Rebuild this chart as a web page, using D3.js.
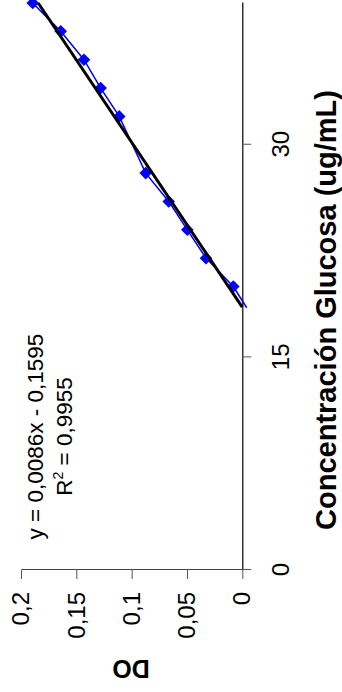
<!DOCTYPE html>
<html>
<head>
<meta charset="utf-8">
<script src="https://cdn.jsdelivr.net/npm/d3@7"></script>
<style>
  html, body { margin: 0; padding: 0; background: #fff; }
  svg { display: block; }
  text { font-family: "Liberation Sans", Arial, sans-serif; }
</style>
</head>
<body>
<script>
// Data
const concentracion = [18.5, 20, 22, 24, 26, 28, 32, 34, 36, 38, 40];
const densidadOptica = [-0.004, 0.0081, 0.0328, 0.0497, 0.0665, 0.0873, 0.1112, 0.128, 0.1431, 0.1641, 0.1894];
const xTicks = [0, 15, 30];
const yTicks = [0, 0.05, 0.1, 0.15, 0.2];
const slope = 0.0086;
const intercept = -0.1595;
const trendX = [18.55, 40];
const equationLine = "y = 0,0086x - 0,1595";
const r2Label = "R";
const r2Value = " = 0,9955";
const xTitle = "Concentración Glucosa (ug/mL)";
const yTitle = "DO";

const W = 342, H = 692;
const svg = d3.select("body").append("svg").attr("width", W).attr("height", H);

// Chart is drawn in an unrotated frame (692 x 342) and rotated -90 degrees
const g = svg.append("g").attr("transform", `translate(0,${H}) rotate(-90)`);

const x = d3.scaleLinear().domain([0, 40]).range([122, 689]);
const y = d3.scaleLinear().domain([0, 0.2]).range([242.3, 21]);
const fmt = d => d3.format("")(d).replace(".", ",");

// Y axis (DO)
const yAxis = g.append("g").attr("transform", `translate(${x(0)},0)`)
  .call(d3.axisLeft(y).tickValues(yTicks).tickSize(9).tickSizeOuter(0).tickPadding(13).tickFormat(fmt));
yAxis.select(".domain").attr("stroke", "#444").attr("stroke-width", 1);
yAxis.selectAll(".tick line").attr("stroke", "#555");
yAxis.selectAll("text").attr("font-size", 24).attr("fill", "#000")
  .attr("font-family", "'Liberation Sans', Arial, sans-serif");

// X axis (Concentración)
const xAxis = g.append("g").attr("transform", `translate(0,${y(0)})`)
  .call(d3.axisBottom(x).tickValues(xTicks).tickSize(9).tickSizeOuter(0).tickPadding(21).tickFormat(d3.format("d")));
xAxis.select(".domain").attr("stroke", "#000").attr("stroke-width", 1.2);
xAxis.selectAll(".tick line").attr("stroke", "#555");
xAxis.selectAll("text").attr("font-size", 24).attr("fill", "#000")
  .attr("font-family", "'Liberation Sans', Arial, sans-serif");

// Data series line
const pts = concentracion.map((c, i) => [c, densidadOptica[i]]);
g.append("path")
  .datum(pts)
  .attr("fill", "none")
  .attr("stroke", "#0000ff")
  .attr("stroke-width", 1.5)
  .attr("d", d3.line().x(d => x(d[0])).y(d => y(d[1])));

// Markers (diamonds)
const r = 6.3;
g.selectAll(".mk")
  .data(pts.filter(d => d[1] >= 0))
  .join("path")
  .attr("class", "mk")
  .attr("fill", "#0000ff")
  .attr("d", d => {
    const cx = x(d[0]), cy = y(d[1]);
    return `M${cx},${cy - r}L${cx + r},${cy}L${cx},${cy + r}L${cx - r},${cy}Z`;
  });

// Trendline
g.append("path")
  .datum(trendX.map(t => [t, slope * t + intercept]))
  .attr("fill", "none")
  .attr("stroke", "#000")
  .attr("stroke-width", 3)
  .attr("d", d3.line().x(d => x(d[0])).y(d => y(d[1])));

// Equation text
const eq = g.append("g").attr("font-size", 22.5).attr("text-anchor", "middle").attr("fill", "#000");
eq.append("text").attr("x", 255.5).attr("y", 43).text(equationLine);
const r2 = eq.append("text").attr("x", 255.5).attr("y", 71.5);
r2.append("tspan").text(r2Label);
r2.append("tspan").attr("font-size", 14).attr("dy", -9).text("2");
r2.append("tspan").attr("dy", 9).text(r2Value);

// Axis titles
g.append("text")
  .attr("x", 382).attr("y", 336)
  .attr("text-anchor", "middle")
  .attr("font-size", 29).attr("font-weight", "bold")
  .text(xTitle);

g.append("text")
  .attr("transform", "translate(32,131) rotate(-90)")
  .attr("text-anchor", "middle")
  .attr("font-size", 25).attr("font-weight", "bold")
  .text(yTitle);
</script>
</body>
</html>
